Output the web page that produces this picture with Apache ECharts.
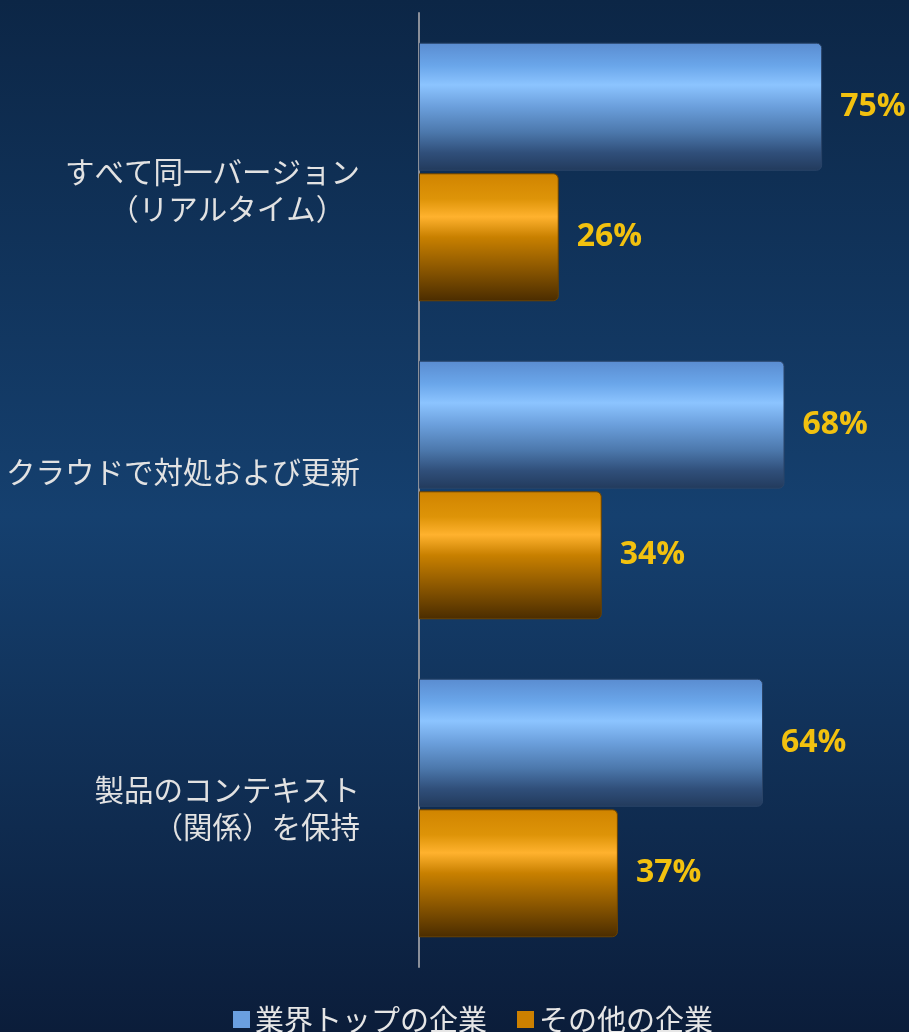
<!DOCTYPE html>
<html><head><meta charset="utf-8">
<script src="https://cdn.jsdelivr.net/npm/echarts@6/dist/echarts.min.js"></script>
<style>html,body{margin:0;padding:0;background:#0d2748;}#c{width:909px;height:1032px;}</style>
</head><body><div id="c"></div>
<script>
const categories = ['すべて同一バージョン\n（リアルタイム）　', 'クラウドで対処および更新', '製品のコンテキスト\n（関係）を保持'];
const seriesNames = ['業界トップの企業', 'その他の企業'];
const topValues = [75, 68, 64];
const otherValues = [26, 34, 37];

const blueGrad = new echarts.graphic.LinearGradient(0, 0, 0, 1, [
  {offset: 0, color: '#5a8cd0'},
  {offset: 0.18, color: '#6aa6ea'},
  {offset: 0.33, color: '#8cc4ff'},
  {offset: 0.5, color: '#6b9fdc'},
  {offset: 0.7, color: '#4c78ac'},
  {offset: 0.86, color: '#304f7a'},
  {offset: 1, color: '#223a5c'}
]);
const orangeGrad = new echarts.graphic.LinearGradient(0, 0, 0, 1, [
  {offset: 0, color: '#d08400'},
  {offset: 0.2, color: '#de9408'},
  {offset: 0.34, color: '#ffb22e'},
  {offset: 0.5, color: '#c88000'},
  {offset: 0.75, color: '#8a5600'},
  {offset: 1, color: '#4a2c00'}
]);

const chart = echarts.init(document.getElementById('c'));
const labelCfg = {
  show: true, position: 'right', distance: 18,
  formatter: '{c}%', color: '#f2c10f', fontSize: 32, fontWeight: 'bold',
  fontFamily: 'Open Sans, Noto Sans, sans-serif'
};
chart.setOption({
  backgroundColor: new echarts.graphic.LinearGradient(0, 0, 0, 1, [
    {offset: 0, color: '#0c2646'},
    {offset: 0.5, color: '#15406f'},
    {offset: 1, color: '#0b1d3a'}
  ]),
  animation: false,
  grid: {left: 419, right: 60, top: 13, bottom: 65},
  legend: {
    bottom: -7, left: 228, icon: 'rect', itemWidth: 17, itemHeight: 17, itemGap: 30,
    textStyle: {color: '#e6e6e6', fontSize: 29, fontFamily: 'Noto Sans CJK JP'},
    data: [
      {name: seriesNames[0], itemStyle: {color: '#6a9fe0', borderWidth: 0}},
      {name: seriesNames[1], itemStyle: {color: '#cc8000', borderWidth: 0}}
    ]
  },
  xAxis: {type: 'value', min: 0, max: 80, show: false},
  yAxis: {
    type: 'category', inverse: true, data: categories,
    axisLine: {show: true, lineStyle: {color: '#8a8f99', width: 2}},
    axisTick: {show: false},
    axisLabel: {
      margin: 59, color: '#e2e2e2', fontSize: 29.5, lineHeight: 37, align: 'right',
      fontFamily: 'Noto Sans CJK JP',
      // vertical nudges of the labels as placed in the reference
      formatter: (v, i) => i === 0 ? '\n' + v : (i === 1 ? v + '\n' : v)
    }
  },
  series: [
    {name: seriesNames[0], type: 'bar', data: topValues, barWidth: 128, barGap: '2%',
     itemStyle: {color: blueGrad, borderRadius: [0, 5, 5, 0], borderColor: '#2a4468', borderWidth: 1},
     label: labelCfg},
    {name: seriesNames[1], type: 'bar', data: otherValues, barWidth: 128,
     itemStyle: {color: orangeGrad, borderRadius: [0, 5, 5, 0], borderColor: '#6a4200', borderWidth: 1},
     label: labelCfg}
  ]
});
</script></body></html>
